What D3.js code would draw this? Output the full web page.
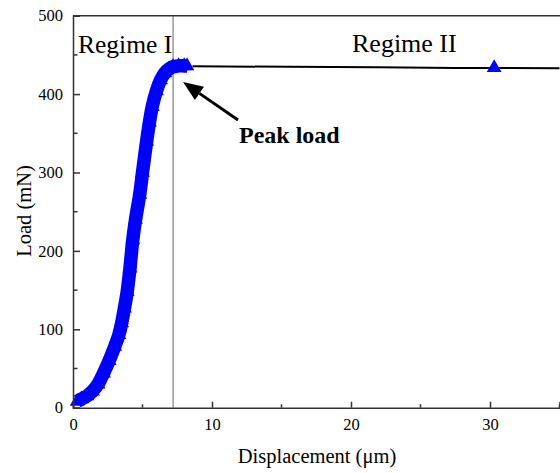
<!DOCTYPE html>
<html><head><meta charset="utf-8">
<script src="https://cdn.jsdelivr.net/npm/d3@7"></script>
<style>body{margin:0;background:#fff}svg{display:block}</style>
</head><body><svg id="c" width="560" height="473"></svg>
<script>
const dispI = [0.3,0.6,1.0,1.4,1.8,2.2,2.6,3.0,3.3,3.5,3.7,3.9,4.1,4.3,4.5,4.8,5.0,5.3,5.5,5.7,6.0,6.3,6.6,6.9,7.2,7.6,8.0,8.2];
const loadI = [8,11,15,21,30,44,60,78,93,108,127,148,178,214,240,272,300,340,364,384,404,418,427,432,435,436,436,436];
const dispII = [8.6,15.5,22,27.5,35];
const loadII = [435.5,434.8,434.2,433.3,433];
const markerDisp = [30.3];
const markerLoad = [433.5];
const xTicks = [0,10,20,30];
const xMinor = [5,15,25,35];
const yTicks = [0,100,200,300,400,500];
const yMinor = [50,150,250,350,450];
const peakDisp = 7.2;

const FF = "'Liberation Serif','Times New Roman','DejaVu Serif',serif";
const svg = d3.select("#c");
const L=73, R=559.5, T=15.7, B=407.7;
const x = d3.scaleLinear().domain([0,35]).range([L,R]);
const y = d3.scaleLinear().domain([0,500]).range([B,T]);
const axisColor="#333";

svg.append("line").attr("x1",x(peakDisp)).attr("x2",x(peakDisp)).attr("y1",T).attr("y2",B)
  .attr("stroke","#666").attr("stroke-width",1);

const line = d3.line().x((d,i)=>x(dispII[i])).y((d,i)=>y(loadII[i]));
svg.append("path").attr("d",line(dispII)).attr("fill","none").attr("stroke","#000").attr("stroke-width",2);

const lineI = d3.line().x((d,i)=>x(dispI[i])).y((d,i)=>y(loadI[i])).curve(d3.curveCatmullRom);
svg.append("path").attr("d",lineI(dispI)).attr("fill","none").attr("stroke","#0000ff").attr("stroke-width",13.5);
const tri = d3.symbol().type(d3.symbolTriangle).size(95);
svg.selectAll(".m1").data(dispI).enter().append("path")
  .attr("transform",(d,i)=>`translate(${x(d)},${y(loadI[i])})`).attr("d",tri).attr("fill","#0000ff");
svg.selectAll(".m2").data(markerDisp).enter().append("path")
  .attr("transform",(d,i)=>`translate(${x(d)},${y(markerLoad[i])})`).attr("d",tri).attr("fill","#0000ff");

const xAxis = d3.axisBottom(x).tickValues(xTicks).tickSize(-6).tickPadding(11).tickFormat(d3.format("d"));
const gx = svg.append("g").attr("transform",`translate(0,${B})`).call(xAxis);
const yAxis = d3.axisLeft(y).tickValues(yTicks).tickSize(-7).tickPadding(10).tickFormat(d3.format("d"));
const gy = svg.append("g").attr("transform",`translate(${L},0)`).call(yAxis);
[gx,gy].forEach(g=>{
  g.attr("font-family",FF).attr("font-size",16);
  g.select(".domain").attr("stroke",axisColor).attr("stroke-width",1.5);
  g.selectAll(".tick line").attr("stroke",axisColor).attr("stroke-width",1.5);
  g.selectAll(".tick text").style("font-family",FF).style("font-size","16.5px").attr("fill","#000");
});
svg.selectAll(".xm").data(xMinor).enter().append("line")
  .attr("x1",d=>x(d)).attr("x2",d=>x(d)).attr("y1",B).attr("y2",B-3.5).attr("stroke",axisColor).attr("stroke-width",1.5);
svg.selectAll(".ym").data(yMinor).enter().append("line")
  .attr("x1",L).attr("x2",L+4.5).attr("y1",d=>y(d)).attr("y2",d=>y(d)).attr("stroke",axisColor).attr("stroke-width",1.5);
svg.append("line").attr("x1",L).attr("x2",560).attr("y1",T).attr("y2",T).attr("stroke",axisColor).attr("stroke-width",1.5);

function txt(xx,yy,s,size,bold){
  return svg.append("text").attr("x",xx).attr("y",yy).style("font-family",FF).style("font-size",size+"px")
    .style("font-weight",bold?"bold":"normal").text(s);
}
txt(317,463,"Displacement (μm)",20.5).attr("text-anchor","middle");
svg.append("text").attr("transform","translate(31,211) rotate(-90)").attr("text-anchor","middle")
  .style("font-family",FF).style("font-size","20.5px").text("Load (mN)");
txt(78,53,"Regime I",25.5);
txt(352,52,"Regime II",26);
txt(239,143,"Peak load",24,true);

const tipX=183, tipY=82, tailX=238, tailY=120;
const ang = Math.atan2(tailY-tipY, tailX-tipX);
const hl=20, hw=8;
const bx=tipX+hl*Math.cos(ang), by=tipY+hl*Math.sin(ang);
svg.append("line").attr("x1",bx).attr("y1",by).attr("x2",tailX).attr("y2",tailY).attr("stroke","#000").attr("stroke-width",3);
svg.append("path").attr("d",`M${tipX},${tipY}L${bx-hw*Math.sin(ang)},${by+hw*Math.cos(ang)}L${bx+hw*Math.sin(ang)},${by-hw*Math.cos(ang)}Z`).attr("fill","#000");
</script></body></html>
